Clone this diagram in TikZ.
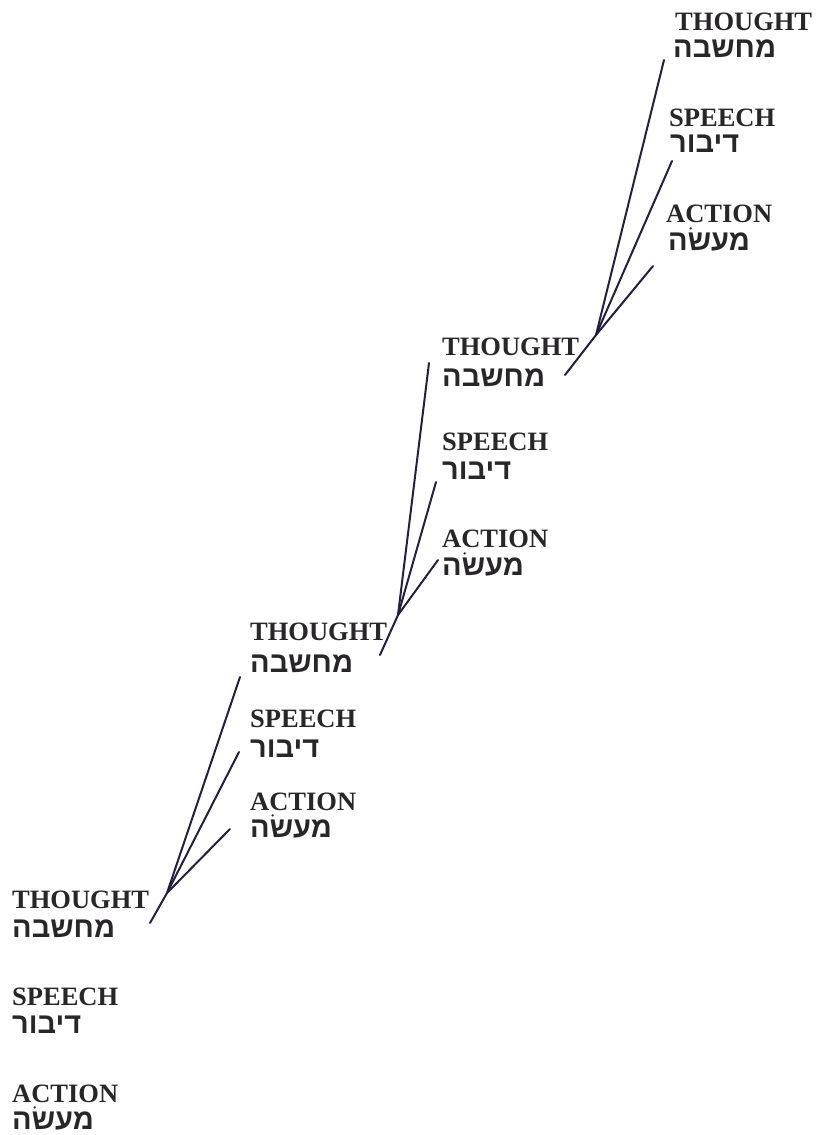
\documentclass[tikz,border=0pt]{standalone}
\usepackage{fontspec}
\setmainfont{Liberation Serif}
\newfontfamily\hebfont[Script=Hebrew]{Liberation Sans}
\TeXXeTstate=1
\usepackage{tikz}
\usetikzlibrary{positioning}
\definecolor{inkline}{RGB}{38,30,62}
\definecolor{inktext}{RGB}{40,38,40}
\tikzset{
    eng/.style={anchor=base west, inner sep=0pt, text height=18pt, text depth=0pt, text=inktext, font=\fontsize{26.5}{28}\selectfont\bfseries},
    heb/.style={anchor=base west, inner sep=0pt, text height=18pt, text depth=0pt, text=inktext, font=\fontsize{29}{30}\selectfont\hebfont\bfseries},
    stroke/.style={inkline, line width=2pt, line cap=round}
}

\begin{document}
\begin{tikzpicture}[x=1pt, y=-1pt]
    \useasboundingbox (0,0) rectangle (823,1135);

    % Bottom group
    \node[eng] (t0)  at (12,908)  {THOUGHT};
    \node[heb] (th0) at (12,937)  {\beginR מחשבה\endR};
    \node[eng] (s0)  at (12,1005) {SPEECH};
    \node[heb] (sh0) at (12,1033) {\beginR דיבור\endR};
    \node[eng] (a0)  at (12,1102) {ACTION};
    \node[heb] (ah0) at (12,1129) {\beginR מעשׂה\endR};

    % Second group
    \node[eng] (t1)  at (250,640) {THOUGHT};
    \node[heb] (th1) at (250,672) {\beginR מחשבה\endR};
    \node[eng] (s1)  at (250,727) {SPEECH};
    \node[heb] (sh1) at (250,757) {\beginR דיבור\endR};
    \node[eng] (a1)  at (250,810) {ACTION};
    \node[heb] (ah1) at (250,837) {\beginR מעשׂה\endR};

    % Third group
    \node[eng] (t2)  at (442,355) {THOUGHT};
    \node[heb] (th2) at (442,386) {\beginR מחשבה\endR};
    \node[eng] (s2)  at (442,450) {SPEECH};
    \node[heb] (sh2) at (442,479) {\beginR דיבור\endR};
    \node[eng] (a2)  at (442,547) {ACTION};
    \node[heb] (ah2) at (442,575) {\beginR מעשׂה\endR};

    % Top group (last letters run to the edge)
    \node[eng] (t3)  at (675,30)  {THOUGHT};
    \node[heb] (th3) at (673,57)  {\beginR מחשבה\endR};
    \node[eng] (s3)  at (669,126) {SPEECH};
    \node[heb] (sh3) at (670,152) {\beginR דיבור\endR};
    \node[eng] (a3)  at (666,222) {ACTION};
    \node[heb] (ah3) at (668,250) {\beginR מעשׂה\endR};

    % Fan of strokes from each THOUGHT up to the next group
    \coordinate (j0) at (167,893);
    \coordinate (e0) at (150,923);
    \coordinate (jt0) at (240,677);
    \coordinate (js0) at (239,752);
    \coordinate (ja0) at (230,829);
    \draw[stroke] (e0) -- (j0) -- (jt0);
    \draw[stroke] (j0) -- (js0);
    \draw[stroke] (j0) -- (ja0);

    \coordinate (j1) at (398,615);
    \coordinate (e1) at (380,655);
    \coordinate (jt1) at (429,363);
    \coordinate (js1) at (436,482);
    \coordinate (ja1) at (438,560);
    \draw[stroke] (e1) -- (j1) -- (jt1);
    \draw[stroke] (j1) -- (js1);
    \draw[stroke] (j1) -- (ja1);

    \coordinate (j2) at (596,335);
    \coordinate (e2) at (565,375);
    \coordinate (jt2) at (664,60);
    \coordinate (js2) at (672,161);
    \coordinate (ja2) at (653,266);
    \draw[stroke] (e2) -- (j2) -- (jt2);
    \draw[stroke] (j2) -- (js2);
    \draw[stroke] (j2) -- (ja2);
\end{tikzpicture}
\end{document}
